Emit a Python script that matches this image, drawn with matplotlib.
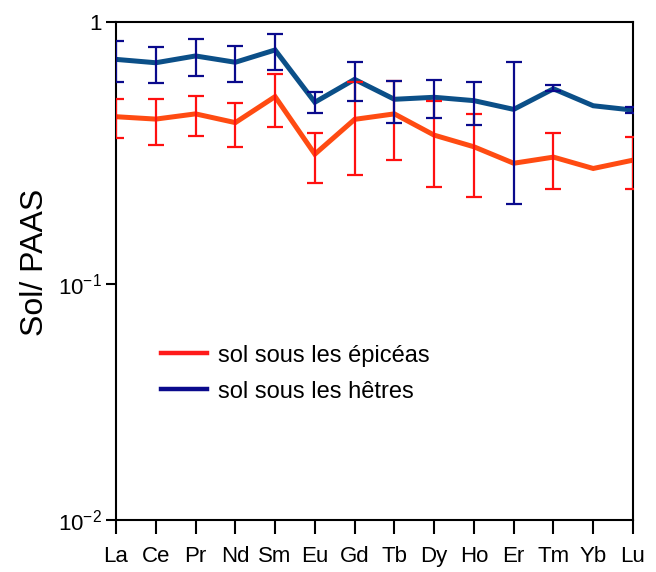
import numpy as np
import matplotlib
matplotlib.use("Agg")
import matplotlib.pyplot as plt

plt.rcParams['font.family'] = ['Liberation Sans', 'DejaVu Sans']
plt.rcParams['mathtext.fontset'] = 'custom'
plt.rcParams['mathtext.rm'] = 'Liberation Sans'
plt.rcParams['mathtext.it'] = 'Liberation Sans'
plt.rcParams['mathtext.bf'] = 'Liberation Sans'

elements = ["La", "Ce", "Pr", "Nd", "Sm", "Eu", "Gd", "Tb", "Dy", "Ho", "Er", "Tm", "Yb", "Lu"]

# sol sous les épicéas (spruce)
epicea = [0.435, 0.426, 0.446, 0.413, 0.519, 0.313, 0.425, 0.446, 0.370, 0.334, 0.289, 0.305, 0.276, 0.297]
epicea_lo = [0.362, 0.338, 0.368, 0.332, 0.398, 0.2435, 0.260, 0.2966, 0.2346, 0.2154, np.nan, 0.231, np.nan, 0.230]
epicea_hi = [0.508, 0.510, 0.523, 0.492, 0.633, 0.376, 0.592, 0.597, 0.501, 0.447, np.nan, 0.376, np.nan, 0.363]

# sol sous les hêtres (beech)
hetre = [0.720, 0.699, 0.742, 0.702, 0.782, 0.494, 0.604, 0.507, 0.516, 0.501, 0.464, 0.556, 0.479, 0.461]
hetre_lo = [0.592, 0.587, 0.622, 0.589, 0.656, 0.450, 0.499, 0.413, 0.431, 0.404, 0.2014, 0.544, np.nan, 0.448]
hetre_hi = [0.848, 0.805, 0.859, 0.812, 0.898, 0.542, 0.704, 0.597, 0.599, 0.592, 0.706, 0.573, np.nan, 0.473]

ytick_values = [0.01, 0.1, 1]
ytick_labels = ["$10^{-2}$", "$10^{-1}$", "1"]
series_labels = ["sol sous les épicéas", "sol sous les hêtres"]
ylabel = "Sol/ PAAS"

# the source figure's decades are not equally tall: piecewise log scale
D1, D2 = 262.0, 236.0

def fwd(v):
    v = np.asarray(v, dtype=float)
    L = np.log10(np.clip(v, 1e-300, None))
    return np.where(L >= -1, L * D1, -D1 + (L + 1) * D2)

def inv(t):
    t = np.asarray(t, dtype=float)
    L = np.where(t >= -D1, t / D1, -1 + (t + D1) / D2)
    return 10 ** L

fig = plt.figure(figsize=(6.56, 5.72), dpi=100)
ax = fig.add_axes([116 / 656, 52 / 572, 517 / 656, 498 / 572])
ax.set_yscale('function', functions=(fwd, inv))

x = np.arange(len(elements))

def draw(vals, lo, hi, line_color, err_color, label, handle_color):
    vals = np.array(vals); lo = np.array(lo); hi = np.array(hi)
    m = ~np.isnan(lo)
    ax.errorbar(x[m], vals[m], yerr=[vals[m] - lo[m], hi[m] - vals[m]], fmt='none',
                ecolor=err_color, elinewidth=1.6, capsize=6, capthick=1.6, zorder=3)
    ax.plot(x, vals, color=line_color, lw=3.6, solid_joinstyle='miter', zorder=2)
    ax.plot([], [], color=handle_color, lw=3.2, label=label)

draw(epicea, epicea_lo, epicea_hi, '#ff4b12', '#ff1010', series_labels[0], '#ff1a1a')
draw(hetre, hetre_lo, hetre_hi, '#0b4f88', '#0a0a8c', series_labels[1], '#0a0a8c')

ax.set_xlim(0, 13)
ax.set_ylim(0.01, 1)
ax.set_xticks(x)
ax.set_xticklabels(elements, fontsize=16)
ax.set_yticks(ytick_values)
ax.set_yticklabels(ytick_labels, fontsize=16)
ax.minorticks_off()
ax.yaxis.set_minor_locator(matplotlib.ticker.NullLocator())
ax.tick_params(axis='x', length=10, width=1.5, pad=9, colors='black')
ax.tick_params(axis='y', length=7, width=1.5, pad=3, colors='black')
for s in ax.spines.values():
    s.set_linewidth(1.5)
ax.set_ylabel(ylabel, fontsize=23)
ax.yaxis.set_label_coords(-0.128, 0.518)

leg = ax.legend(loc='upper left', bbox_to_anchor=(0.064, 0.376), frameon=False,
                fontsize=17, handlelength=1.95, handletextpad=0.45, labelspacing=0.6,
                borderpad=0)

fig.savefig("out.png", dpi=100)
